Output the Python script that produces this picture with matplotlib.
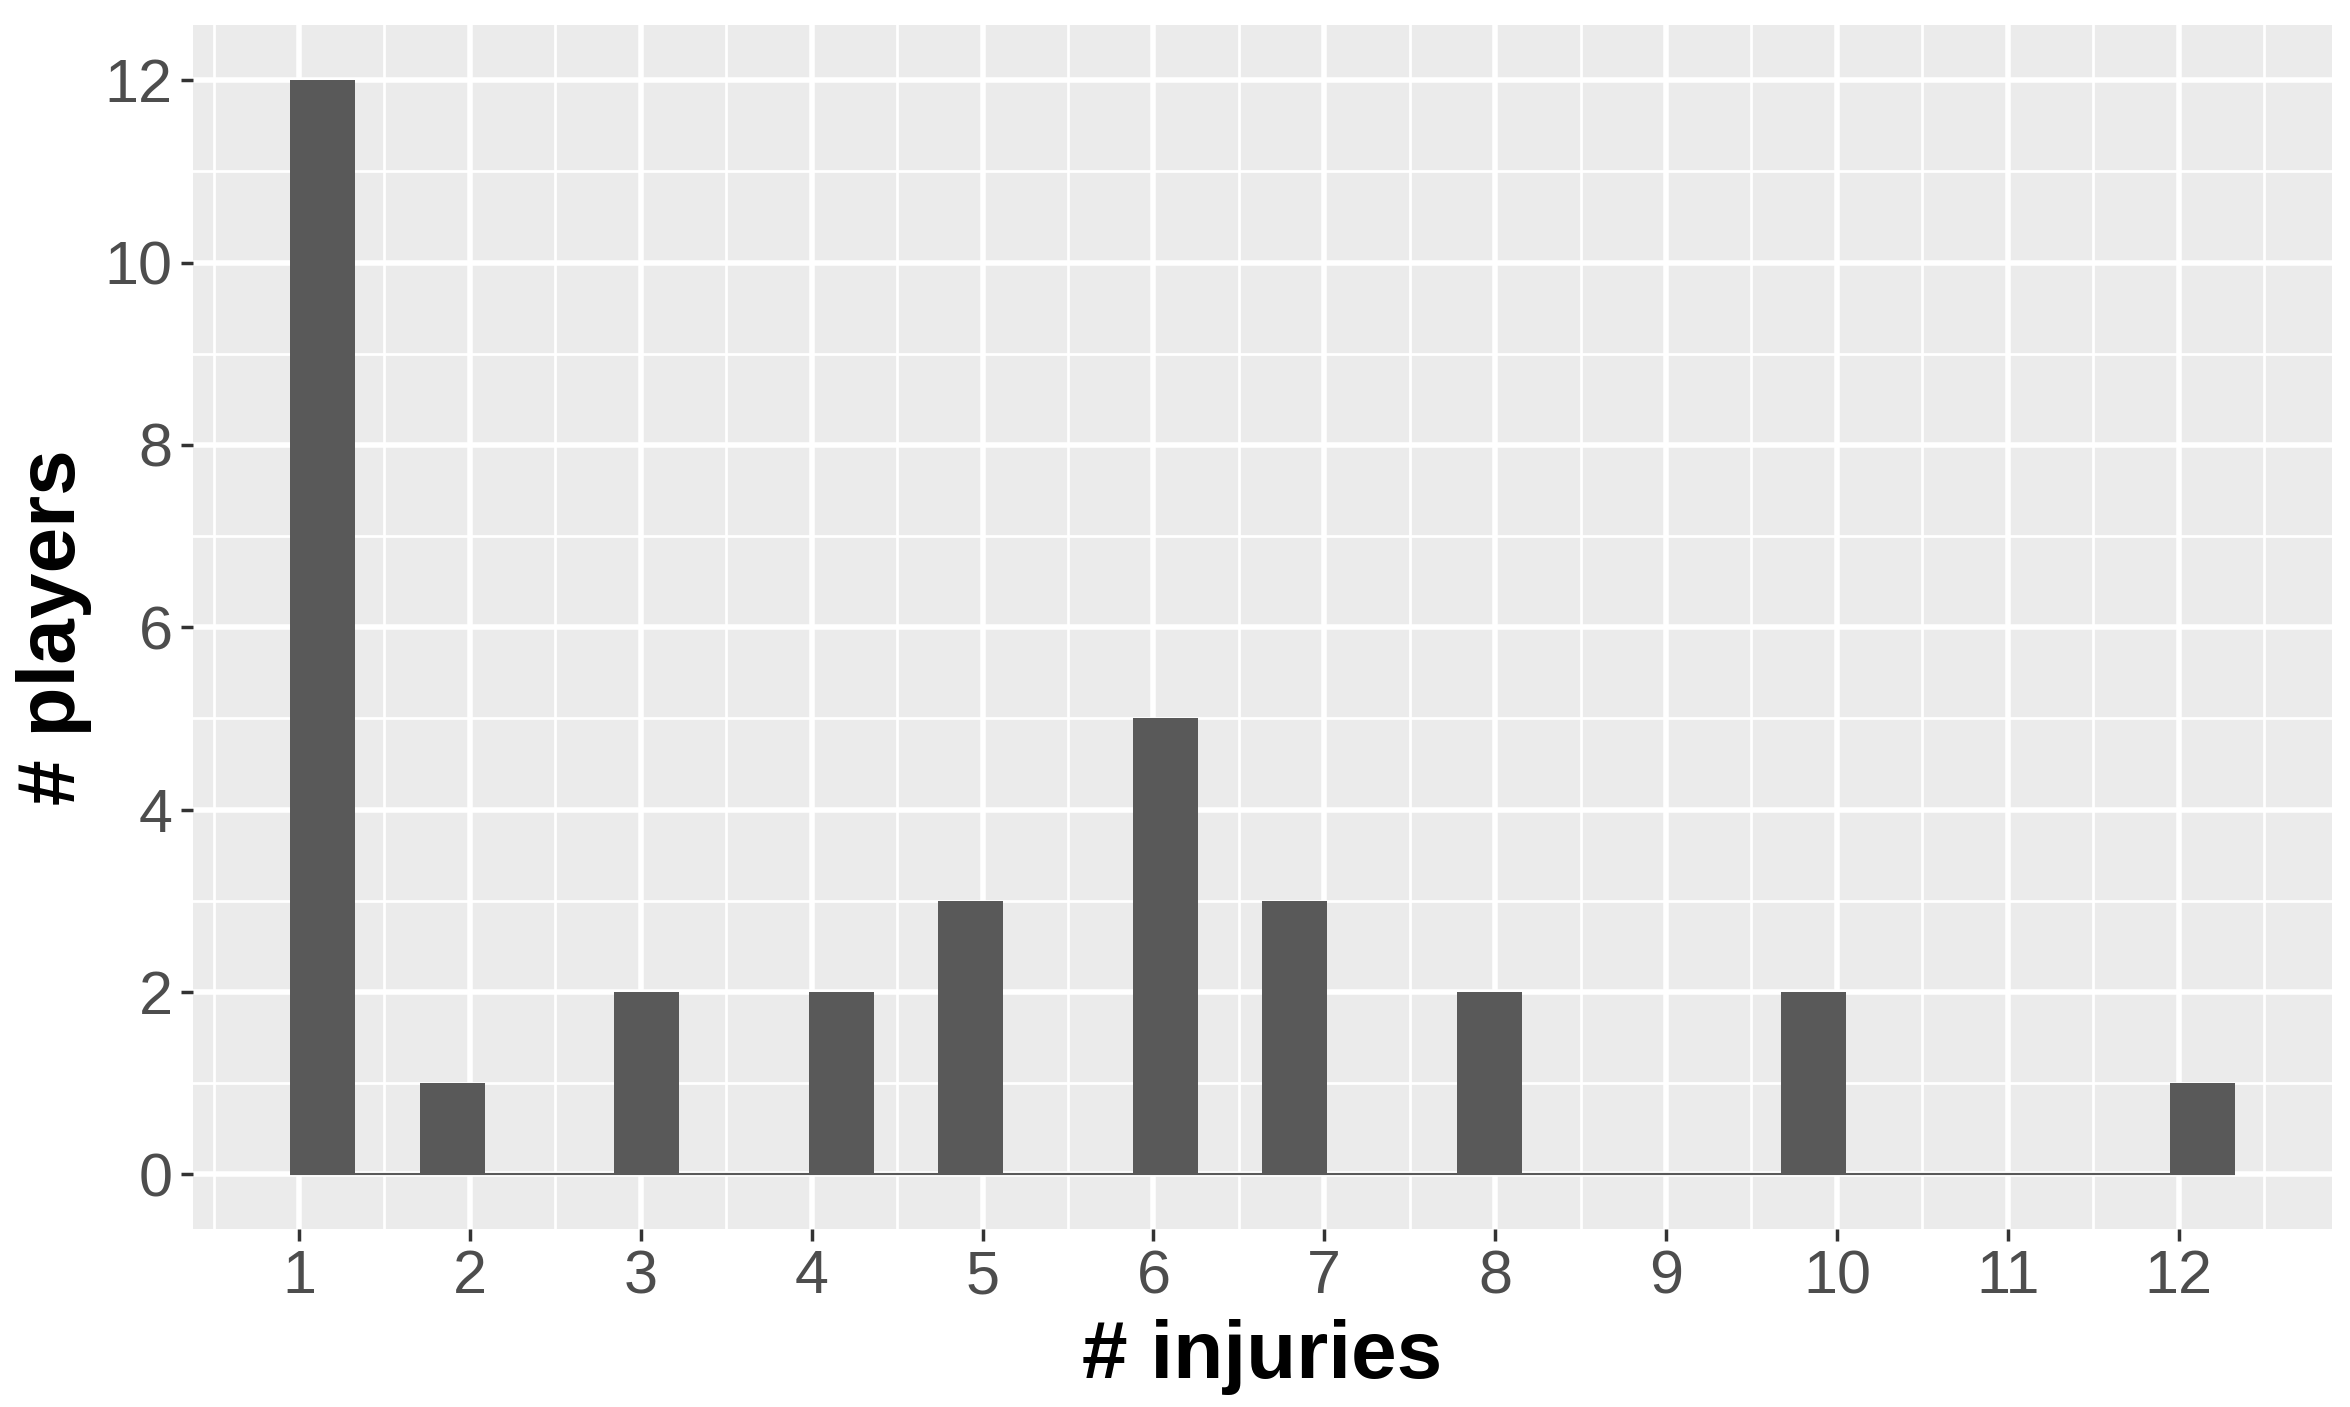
import matplotlib
matplotlib.use('Agg')
import matplotlib.pyplot as plt
import numpy as np

# data: how many players had each number of injuries
injuries = [1, 2, 3, 4, 5, 6, 7, 8, 9, 10, 11, 12]
players = [12, 1, 2, 2, 3, 5, 3, 2, 0, 2, 0, 1]
y_ticks = [0, 2, 4, 6, 8, 10, 12]

plt.rcParams['font.family'] = ['Liberation Sans', 'DejaVu Sans']

values = np.repeat(injuries, players)

# ggplot-style bins (bins = 30)
nbins = 30
lo, hi = min(injuries), max(injuries)
width = (hi - lo) / (nbins - 1)
boundary = width / 2
start = np.floor((lo - boundary) / width) * width + boundary
edges = start + np.arange(nbins + 1) * width

fig = plt.figure(figsize=(23.5, 14.07), dpi=100)
ax = fig.add_axes([0.0821, 0.1265, 0.9102, 0.8554])
ax.set_facecolor('#EBEBEB')

ax.hist(values, bins=edges, color='#595959', zorder=3)
# zero-height bins still show as a thin line in ggplot
ax.hlines(0, edges[0], edges[-1], color='#595959', lw=1.5, zorder=2)

span = edges[-1] - edges[0]
ax.set_xlim(edges[0] - 0.05 * span, edges[-1] + 0.05 * span)
ax.set_ylim(-0.05 * max(players), max(players) * 1.05)

ax.set_xticks(injuries)
ax.set_xticks([injuries[0] - 0.5, injuries[-1] + 0.5] + list(np.array(injuries[:-1]) + 0.5), minor=True)
ax.set_yticks(y_ticks)
ax.set_yticks(np.array(y_ticks[:-1]) + 1, minor=True)

ax.grid(which='major', color='white', lw=4.0, zorder=1)
ax.grid(which='minor', color='white', lw=2.0, zorder=1)
ax.set_axisbelow(True)
for s in ax.spines.values():
    s.set_visible(False)

ax.tick_params(which='major', length=8.6, width=2.5, color='#333333',
               labelsize=44, labelcolor='#4D4D4D', pad=6)
ax.tick_params(which='minor', length=0)

ax.set_xlabel('# injuries', fontsize=59, fontweight='bold', labelpad=9)
ax.set_ylabel('# players', fontsize=59, fontweight='bold', labelpad=9)

plt.savefig('out.png', dpi=100)
plt.close()
